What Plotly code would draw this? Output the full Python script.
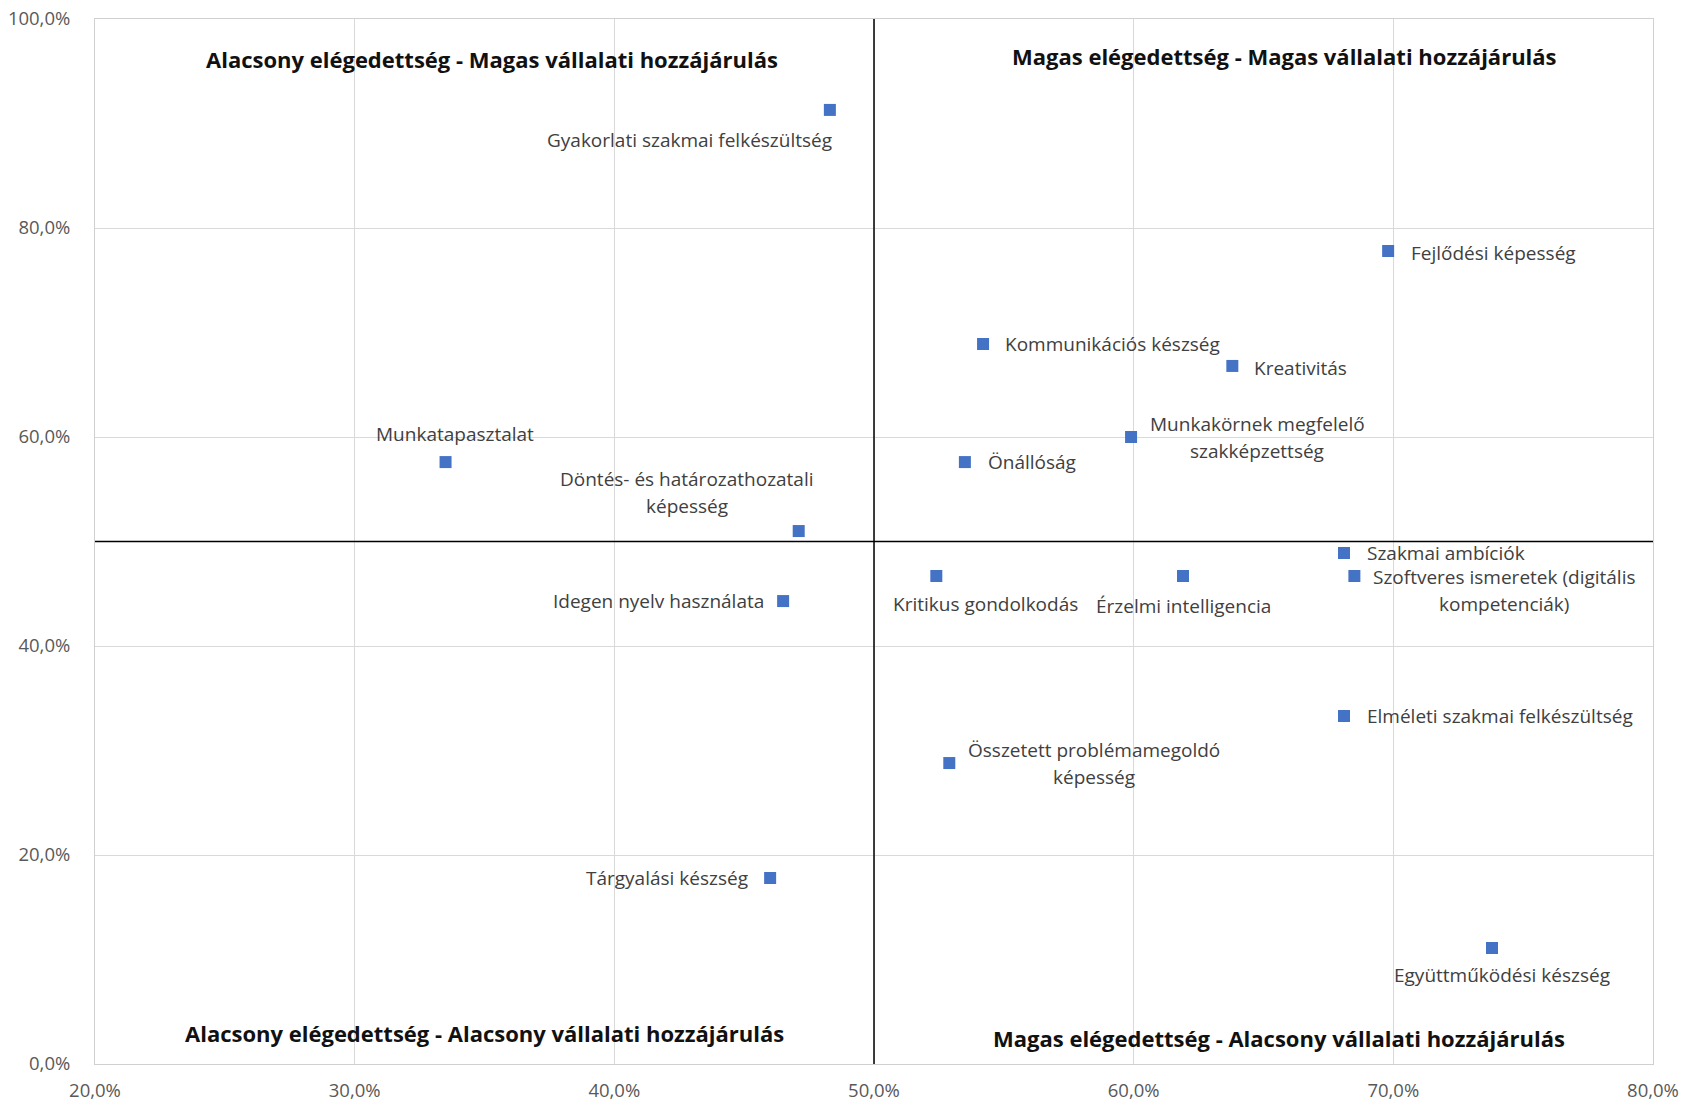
import plotly.graph_objects as go

# adatok (százalék)
kompetenciak = [
    "Gyakorlati szakmai felkészültség",
    "Fejlődési képesség",
    "Kommunikációs készség",
    "Kreativitás",
    "Munkakörnek megfelelő\nszakképzettség",
    "Önállóság",
    "Munkatapasztalat",
    "Döntés- és határozathozatali\nképesség",
    "Szakmai ambíciók",
    "Szoftveres ismeretek (digitális\nkompetenciák)",
    "Kritikus gondolkodás",
    "Érzelmi intelligencia",
    "Idegen nyelv használata",
    "Elméleti szakmai felkészültség",
    "Összetett problémamegoldó\nképesség",
    "Tárgyalási készség",
    "Együttműködési készség",
]
elegedettseg = [48.3, 69.8, 54.2, 63.8, 59.9, 53.5, 33.5, 47.1, 68.1, 68.5,
                52.4, 61.9, 46.5, 68.1, 52.9, 46.0, 73.8]
hozzajarulas = [91.3, 77.8, 68.9, 66.8, 60.0, 57.6, 57.6, 51.0, 48.9, 46.7,
                46.7, 46.7, 44.3, 33.3, 28.8, 17.8, 11.1]

x_ticks = [20, 30, 40, 50, 60, 70, 80]
y_ticks = [0, 20, 40, 60, 80, 100]

kvadransok = [
    ("Alacsony elégedettség - Magas vállalati hozzájárulás", 35.3, 96.2),
    ("Magas elégedettség - Magas vállalati hozzájárulás", 65.8, 96.5),
    ("Alacsony elégedettség - Alacsony vállalati hozzájárulás", 35.0, 3.0),
    ("Magas elégedettség - Alacsony vállalati hozzájárulás", 65.6, 2.5),
]


def szazalek(v):
    return ("%.1f%%" % v).replace(".", ",")


# címkék elhelyezése: (xanchor, xshift, yshift)
cimke_hely = [
    ("right", 4, -30),
    ("left", 21, -2),
    ("left", 20, 0),
    ("left", 20, -2),
    ("center", 126, 0),
    ("left", 21, 0),
    ("center", 9, 28),
    ("center", -112, 39),
    ("left", 21, 0),
    ("center", 150, -15),
    ("center", 49, -28),
    ("center", 0, -30),
    ("right", -17, 0),
    ("left", 21, 0),
    ("center", 145, 0),
    ("right", -20, 0),
    ("center", 10, -27),
]

fig = go.Figure()
fig.add_trace(go.Scatter(
    x=elegedettseg, y=hozzajarulas, mode="markers",
    marker=dict(symbol="square", size=12, color="#4472C4"),
    hovertext=[k.replace("\n", " ") for k in kompetenciak], hoverinfo="text",
    showlegend=False,
))

annotations = []
LINE_H = 27
for nev, x, y, (anchor, dx, dy) in zip(kompetenciak, elegedettseg, hozzajarulas, cimke_hely):
    sorok = nev.split("\n")
    n = len(sorok)
    for i, sor in enumerate(sorok):
        eltol = ((n - 1) / 2 - i) * LINE_H
        annotations.append(dict(
            x=x, y=y, xref="x", yref="y", text=sor, showarrow=False,
            xanchor=anchor, yanchor="middle",
            xshift=dx, yshift=dy + eltol,
            font=dict(family="Open Sans", size=19, color="#404040"),
        ))

for szoveg, x, y in kvadransok:
    annotations.append(dict(
        x=x, y=y, xref="x", yref="y", text="<b>" + szoveg + "</b>",
        showarrow=False, xanchor="center", yanchor="middle",
        font=dict(family="Open Sans", size=22, color="#111111"),
    ))

tengely = dict(
    showgrid=True, gridcolor="#d9d9d9", gridwidth=1,
    showline=True, linecolor="#d0d0d0", mirror=True, zeroline=False,
    ticks="", automargin=False,
    tickfont=dict(family="Open Sans", size=18.5, color="#595959"),
)

fig.update_layout(
    width=1681, height=1103,
    margin=dict(l=95, r=28, t=19, b=39),
    paper_bgcolor="white", plot_bgcolor="white",
    annotations=annotations,
    shapes=[
        dict(type="line", xref="x", yref="y", x0=50, x1=50, y0=0, y1=100,
             line=dict(color="black", width=1.5)),
        dict(type="line", xref="x", yref="y", x0=20, x1=80, y0=50, y1=50,
             line=dict(color="black", width=1.5)),
    ],
    xaxis=dict(range=[20, 80], tickvals=x_ticks, ticklabelstandoff=10,
               ticktext=[szazalek(v) for v in x_ticks], **tengely),
    yaxis=dict(range=[0, 100], tickvals=y_ticks, ticklabelstandoff=20,
               ticktext=[szazalek(v) for v in y_ticks], **tengely),
)

# az oldal alapértelmezett 8px-es margója nélkül
fig.write_html("out.html", config={"displayModeBar": False},
               post_script="document.body.style.margin='0';")
